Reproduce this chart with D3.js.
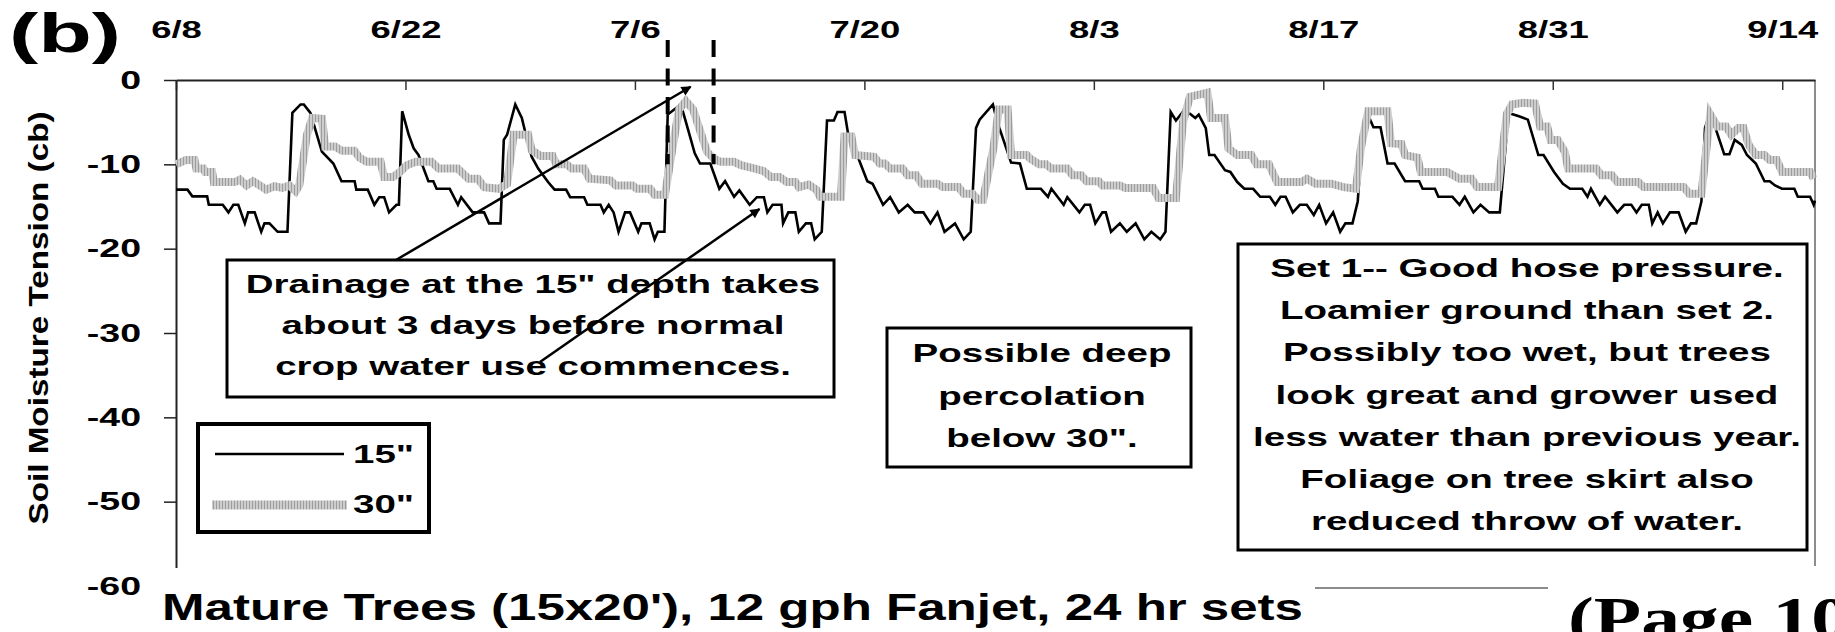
<!DOCTYPE html>
<meta charset="utf-8">
<script src="https://d3js.org/d3.v7.min.js"></script>
<title>Soil moisture tension, mature trees</title>
<style>
body { margin: 0; background: #fff; }
text { font-family: "Liberation Sans", Arial, sans-serif; font-weight: bold; fill: #000; }
</style>
<body>
<svg id="chart" width="1835" height="632"></svg>
<script>

// x values are days after 6/8
var tickDays = [0, 14, 28, 42, 56, 70, 84, 98];
var tickLabels = ["6/8", "6/22", "7/6", "7/20", "8/3", "8/17", "8/31", "9/14"];
var yTicks = [0, -10, -20, -30, -40, -50, -60];

// 15" sensor
var depth15 = [
  [0,-13],[0.7,-13],[1.0,-13.8],[1.9,-13.8],[2.0,-14.8],[2.85,-14.8],[3.2,-15.7],[3.5,-14.8],
  [3.8,-14.8],[4.2,-17],[4.4,-15.7],[4.8,-15.7],[5.2,-18],[5.4,-17],[5.7,-17],[6.2,-18],
  [6.8,-18],[7.1,-3.9],[7.6,-2.9],[7.8,-2.9],[8.2,-3.9],[8.9,-8.5],[9.6,-9.9],[10.1,-12],
  [10.9,-12],[11.0,-13],[11.7,-13],[12.1,-14.8],[12.4,-13.9],[12.7,-13.9],[13.0,-15.7],[13.45,-14.8],
  [13.6,-14.8],[13.8,-3.7],[14.2,-6.5],[14.5,-8.1],[14.8,-8.9],[15.4,-12],[15.7,-12],[15.9,-12.9],
  [16.7,-12.9],[17.2,-14.8],[17.4,-13.9],[18.1,-15.7],[18.8,-15.7],[19.1,-17],[19.8,-17],[20.0,-7.1],
  [20.2,-6.5],[20.7,-2.9],[21.1,-4.5],[21.3,-6.1],[21.7,-9.1],[22.1,-10.5],[22.7,-12.1],[23.1,-13],
  [23.8,-13],[24.05,-13.9],[24.9,-13.9],[25.1,-14.8],[25.9,-14.8],[26.1,-15.7],[26.4,-14.8],[26.7,-15.7],
  [27.0,-18],[27.4,-15.7],[27.7,-15.7],[28.2,-18],[28.4,-17],[28.9,-17],[29.2,-18.9],[29.4,-18],
  [29.8,-18],[30.0,-4.1],[30.4,-3.5],[30.8,-2.9],[31.1,-4.9],[31.65,-8.7],[31.97,-9.9],[32.6,-9.9],
  [33.15,-12.9],[33.5,-12],[34.05,-13.85],[34.37,-13.1],[35.0,-14.8],[35.44,-13.9],[35.87,-13.9],[36.08,-15.7],
  [36.4,-14.8],[36.94,-14.8],[37.04,-17],[37.36,-15.7],[37.79,-15.7],[38.0,-18],[38.43,-17],[38.75,-17],
  [38.97,-18.9],[39.4,-18],[39.72,-4.8],[40.14,-4.8],[40.36,-3.8],[40.79,-3.8],[41.0,-6.3],[41.64,-9.3],
  [42.18,-12],[42.5,-12.3],[43.14,-14.8],[43.57,-13.9],[44.1,-15.7],[44.64,-14.8],[45.07,-15.7],[45.6,-15.7],
  [46.03,-17],[46.46,-15.7],[46.89,-18],[47.53,-17],[48.06,-18.9],[48.49,-18],[48.81,-5.7],[49.03,-4.7],
  [49.84,-2.9],[50.1,-4.9],[50.52,-7.3],[50.95,-9.8],[51.49,-9.9],[51.91,-12.9],[52.77,-12.9],[53.2,-13.85],
  [53.41,-12.9],[54.16,-14.8],[54.38,-13.9],[55.12,-15.7],[55.45,-14.8],[55.77,-14.8],[56.09,-17],[56.52,-15.7],
  [56.73,-15.7],[57.05,-18],[57.59,-17],[58.01,-18],[58.55,-17],[59.08,-18.9],[59.51,-18],[60.05,-18.9],
  [60.37,-18],[60.69,-3.8],[61.01,-4.8],[61.54,-3.5],[62.19,-4.5],[62.4,-4.1],[62.83,-5.7],[63.04,-8.9],
  [63.36,-8.9],[64.0,-10.7],[64.33,-10.9],[64.75,-12.1],[65.18,-12.9],[65.72,-12.9],[66.15,-13.85],[66.74,-13.85],
  [67.07,-14.8],[67.39,-13.85],[67.7,-13.85],[68.14,-15.7],[68.57,-14.8],[68.99,-14.8],[69.42,-16],[69.75,-14.8],
  [70.17,-17],[70.6,-15.7],[71.03,-18],[71.35,-17],[71.78,-17],[72.1,-14.4],[72.42,-5.7],[72.63,-3.7],
  [73.06,-5.6],[73.49,-5.6],[73.92,-9.9],[74.35,-9.9],[74.99,-12],[75.85,-12],[76.06,-12.9],[76.81,-12.9],
  [77.02,-13.85],[77.88,-13.85],[78.31,-14.8],[78.63,-13.85],[79.16,-15.7],[79.59,-14.8],[80.12,-15.7],[80.77,-15.7],
  [81.3,-3.9],[81.94,-4.3],[82.48,-4.7],[83.12,-8.9],[83.44,-8.9],[84.08,-10.9],[84.62,-12.3],[85.05,-12.9],
  [85.8,-12.9],[86.12,-13.85],[86.33,-12.9],[86.87,-14.8],[87.19,-13.85],[87.94,-15.7],[88.36,-14.8],[88.79,-14.8],
  [89.11,-15.7],[89.43,-14.8],[89.86,-14.8],[90.07,-17],[90.4,-15.7],[90.72,-17],[91.15,-15.7],[91.68,-15.7],
  [92.11,-18],[92.43,-17],[92.75,-17],[93.07,-14.4],[93.29,-5.7],[93.61,-3.8],[94.03,-6.3],[94.46,-8.8],
  [94.78,-8.8],[95.1,-7.1],[95.53,-7.7],[95.85,-8.9],[96.39,-9.9],[96.92,-12],[97.24,-12],[97.56,-12.5],
  [97.99,-12.9],[98.74,-12.9],[98.95,-13.85],[99.7,-13.85],[99.92,-14.8],[100,-14.3]
];

// 30" sensor
var depth30 = [
  [0,-10],[0.6,-9.5],[1.13,-9.5],[1.24,-10.5],[1.67,-10.5],[1.78,-10.9],[2.2,-10.9],[2.31,-12.1],
  [3.6,-12.1],[3.9,-11.8],[4.3,-12.5],[4.7,-12],[5.2,-12.6],[5.5,-13],[6.0,-12.6],[6.5,-12.8],
  [6.92,-12.5],[7.3,-13.2],[7.52,-12.5],[7.99,-6.5],[8.31,-4.5],[8.91,-4.6],[9.1,-7.9],[9.7,-7.9],
  [10.13,-8.4],[10.88,-8.4],[11.2,-9.2],[11.63,-9.7],[12.48,-9.7],[12.7,-11.5],[13.23,-11.5],[13.6,-11],
  [14.09,-10.1],[14.63,-9.7],[15.59,-9.7],[16.02,-10.5],[17.19,-10.5],[17.84,-11.7],[18.42,-11.7],[18.8,-12.7],
  [19.7,-12.9],[20.2,-12.3],[20.6,-6.5],[21.48,-6.5],[21.7,-8.3],[22.23,-9.0],[22.98,-9.0],[23.2,-10],
  [23.83,-10],[24.15,-10.5],[24.9,-10.5],[25.22,-11.7],[26.5,-11.9],[26.83,-12.5],[27.86,-12.5],[28.12,-12.9],
  [28.93,-12.9],[29.19,-13.6],[29.83,-13.6],[30.3,-8],[30.69,-3.5],[31.11,-2.5],[31.55,-3.5],[31.97,-6],
  [32.4,-8.5],[32.8,-9.3],[33.2,-9.7],[34.05,-9.7],[34.47,-10.1],[35.33,-10.5],[35.86,-10.8],[36.29,-11.5],
  [36.83,-11.5],[37.26,-12.1],[37.79,-12.1],[38.0,-12.7],[38.6,-12.4],[39.07,-13],[39.29,-13.85],[40.57,-13.85],
  [40.79,-6.7],[41.21,-6.7],[41.43,-8.9],[42.6,-9.1],[42.93,-9.9],[43.25,-9.9],[43.57,-10.5],[44.32,-10.5],
  [44.64,-11.3],[45.17,-11.3],[45.5,-12.3],[46.46,-12.3],[46.78,-12.7],[47.74,-12.7],[48.06,-13.5],[48.6,-13.5],
  [48.92,-14.2],[49.24,-14.2],[49.88,-8],[50.2,-3.5],[50.74,-3.5],[50.95,-8.9],[51.91,-8.9],[52.1,-9.3],
  [52.66,-10.0],[53.09,-10.0],[53.41,-10.5],[54.38,-10.5],[54.7,-11.3],[55.23,-11.3],[55.55,-12.0],[56.3,-12.0],
  [56.52,-12.5],[57.59,-12.5],[57.91,-12.8],[59.62,-12.8],[59.94,-14],[61.01,-14],[61.44,-5],[61.86,-2],
  [62.93,-1.5],[63.15,-4.5],[64.0,-4.5],[64.22,-8.1],[64.75,-8.9],[65.61,-8.9],[65.93,-10],[66.68,-10],
  [67.18,-12.1],[68.68,-12.1],[69.0,-11.7],[69.53,-12.3],[70.5,-12.3],[71.24,-12.7],[71.99,-12.9],[72.3,-8],
  [72.74,-3.7],[73.92,-3.7],[74.13,-7.5],[74.77,-7.6],[74.99,-8.9],[75.74,-9.2],[75.95,-10.9],[77.56,-10.9],
  [78.31,-11.7],[79.05,-11.7],[79.38,-12.7],[80.66,-12.7],[81.2,-4],[81.52,-2.9],[82.16,-2.7],[82.91,-2.8],
  [83.23,-5.5],[83.66,-5.5],[83.87,-7.1],[84.3,-7.1],[84.73,-8.5],[84.94,-10.5],[86.65,-10.5],[86.97,-11.3],
  [87.61,-11.3],[87.94,-12.1],[89.22,-12.1],[89.54,-12.7],[92.0,-12.7],[92.32,-13.5],[93.07,-13.5],[93.61,-4.1],
  [94.03,-5.5],[94.57,-5.5],[94.89,-6.5],[95.32,-5.7],[95.64,-5.7],[95.96,-7.7],[96.39,-8.9],[96.92,-8.9],
  [97.24,-9.5],[97.67,-9.5],[97.99,-10.9],[99.7,-10.9],[99.92,-11.7]
];

var markerDays = [30, 32.8];   // dashed drainage window

var note1 = ["Drainage at the 15\" depth takes", "about 3 days before normal", "crop water use commences."];
var note2 = ["Possible deep", "percolation", "below 30\"."];
var note3 = ["Set 1-- Good hose pressure.", "Loamier ground than set 2.", "Possibly too wet, but trees",
             "look great and grower used", "less water than previous year.", "Foliage on tree skirt also",
             "reduced throw of water."];
var legendNames = ["15\"", "30\""];

var svg = d3.select("#chart");
var SX = 1.54; // the original picture is stretched sideways

var x = d3.scaleLinear().domain([0, 100]).range([176, 1815]);
var y = d3.scaleLinear().domain([-60, 0]).range([586, 80]);

// stretch a text sideways; k = wanted width / width at 25px-style sizing
function wide(sel, k) {
  k = k || SX;
  sel.each(function() {
    var w = this.getComputedTextLength();
    d3.select(this).attr("textLength", w * k).attr("lengthAdjust", "spacingAndGlyphs");
  });
  return sel;
}

var defs = svg.append("defs");
var pat = defs.append("pattern")
    .attr("id", "tex")
    .attr("patternUnits", "userSpaceOnUse")
    .attr("width", 3).attr("height", 4);
pat.append("rect").attr("width", 3).attr("height", 4).attr("fill", "#cdcdcd");
pat.append("rect").attr("width", 1).attr("height", 4).attr("fill", "#9d9d9d");

defs.append("marker")
    .attr("id", "arrow")
    .attr("viewBox", "0 0 10 10")
    .attr("refX", 9).attr("refY", 5)
    .attr("markerWidth", 5).attr("markerHeight", 4)
    .attr("orient", "auto")
  .append("path")
    .attr("d", "M0,0L10,5L0,10z")
    .attr("fill", "#000");

// frame
svg.append("line")
    .attr("x1", x(100)).attr("x2", x(100))
    .attr("y1", y(0)).attr("y2", y(-60))
    .attr("stroke", "#8c8c8c").attr("stroke-width", 2);
svg.append("line")
    .attr("x1", x(0)).attr("x2", x(100))
    .attr("y1", y(-60) + 2).attr("y2", y(-60) + 2)
    .attr("stroke", "#8c8c8c").attr("stroke-width", 2);

// top axis with the dates
var topAxis = svg.append("g")
    .attr("transform", "translate(0," + y(0) + ")")
    .call(d3.axisTop(x)
      .tickValues(tickDays)
      .tickFormat(function(d, i) { return tickLabels[i]; })
      .tickSizeInner(-10).tickSizeOuter(0).tickPadding(42));
topAxis.select(".domain").attr("stroke", "#222").attr("stroke-width", 2);
topAxis.selectAll(".tick line").attr("stroke", "#333").attr("stroke-width", 1.5);
topAxis.selectAll("text").attr("font-size", 24).attr("font-family", null).call(wide, 1.52);

var leftAxis = svg.append("g")
    .attr("transform", "translate(" + x(0) + ",0)")
    .call(d3.axisLeft(y)
      .tickValues(yTicks)
      .tickFormat(function(d) { return String(d); })
      .tickSize(12).tickSizeOuter(0).tickPadding(23));
leftAxis.select(".domain").attr("stroke", "#222").attr("stroke-width", 2);
leftAxis.selectAll(".tick line").attr("stroke", "#222").attr("stroke-width", 1.5);
leftAxis.selectAll("text").attr("font-size", 25).attr("font-family", null).call(wide, 1.5);

// series
var line = d3.line()
    .x(function(d) { return x(d[0]); })
    .y(function(d) { return y(d[1]); });

svg.append("path")
    .datum(depth15)
    .attr("d", line)
    .attr("fill", "none")
    .attr("stroke", "#000")
    .attr("stroke-width", 2.6);

svg.append("path")
    .datum(depth30)
    .attr("d", line)
    .attr("fill", "none")
    .attr("stroke", "url(#tex)")
    .attr("stroke-width", 8);

// dashed drainage window
svg.selectAll(".mark")
    .data(markerDays)
  .enter().append("line")
    .attr("class", "mark")
    .attr("x1", function(d) { return x(d); })
    .attr("x2", function(d) { return x(d); })
    .attr("y1", 40).attr("y2", y(-10))
    .attr("stroke", "#000").attr("stroke-width", 4)
    .attr("stroke-dasharray", "17,11.5");

// note boxes
function noteBox(lines, x0, y0, x1, y1, cx, base, step) {
  svg.append("rect")
      .attr("x", x0).attr("y", y0)
      .attr("width", x1 - x0).attr("height", y1 - y0)
      .attr("fill", "#fff").attr("stroke", "#000").attr("stroke-width", 3);
  svg.selectAll(null)
      .data(lines)
    .enter().append("text")
      .attr("x", cx)
      .attr("y", function(d, i) { return base + i * step; })
      .attr("text-anchor", "middle")
      .attr("font-size", 26)
      .text(function(d) { return d; })
      .call(wide, SX * 25 / 26);
}
noteBox(note1, 227, 260, 834, 397, 533, 293, 41);
noteBox(note2, 887, 328, 1191, 467, 1042, 362, 42.5);
noteBox(note3, 1238, 244, 1807, 550, 1527, 277, 42.2);

// arrows
svg.append("line")
    .attr("x1", 396).attr("y1", 260)
    .attr("x2", x(31.4)).attr("y2", y(-0.8))
    .attr("stroke", "#000").attr("stroke-width", 2.5)
    .attr("marker-end", "url(#arrow)");
svg.append("line")
    .attr("x1", 540).attr("y1", 362)
    .attr("x2", x(35.6)).attr("y2", y(-15.3))
    .attr("stroke", "#000").attr("stroke-width", 2.5)
    .attr("marker-end", "url(#arrow)");

// legend
var lg = svg.append("g");
lg.append("rect")
    .attr("x", 198).attr("y", 424).attr("width", 231).attr("height", 108)
    .attr("fill", "#fff").attr("stroke", "#000").attr("stroke-width", 4);
lg.append("line").attr("x1", 215).attr("x2", 344).attr("y1", 454).attr("y2", 454)
    .attr("stroke", "#000").attr("stroke-width", 2.5);
lg.append("line").attr("x1", 212).attr("x2", 347).attr("y1", 505).attr("y2", 505)
    .attr("stroke", "url(#tex)").attr("stroke-width", 9);
lg.selectAll("text")
    .data(legendNames)
  .enter().append("text")
    .attr("x", 353)
    .attr("y", function(d, i) { return 463 + i * 50; })
    .attr("font-size", 26)
    .text(function(d) { return d; })
    .call(wide, SX * 25 / 26);

// title strip covers the bottom of the plot frame
svg.append("rect").attr("x", 150).attr("y", 568).attr("width", 1165).attr("height", 64).attr("fill", "#fff");
svg.append("rect").attr("x", 1548).attr("y", 566).attr("width", 287).attr("height", 66).attr("fill", "#fff");

svg.append("text")
    .attr("x", 162).attr("y", 620)
    .attr("font-size", 36)
    .attr("textLength", 1141).attr("lengthAdjust", "spacingAndGlyphs")
    .text("Mature Trees (15x20'), 12 gph Fanjet, 24 hr sets");

svg.append("text")
    .attr("x", 1568).attr("y", 638)
    .attr("font-size", 60)
    .attr("textLength", 282).attr("lengthAdjust", "spacingAndGlyphs")
    .style("font-family", "'Liberation Serif', 'Times New Roman', serif")
    .text("(Page 10");

svg.append("text")
    .attr("x", 9).attr("y", 52)
    .attr("font-size", 56)
    .attr("textLength", 112).attr("lengthAdjust", "spacingAndGlyphs")
    .text("(b)");

svg.append("text")
    .attr("transform", "translate(48,318) rotate(-90)")
    .attr("text-anchor", "middle")
    .attr("font-size", 28)
    .attr("textLength", 413).attr("lengthAdjust", "spacingAndGlyphs")
    .text("Soil Moisture Tension (cb)");

</script>
</body>
